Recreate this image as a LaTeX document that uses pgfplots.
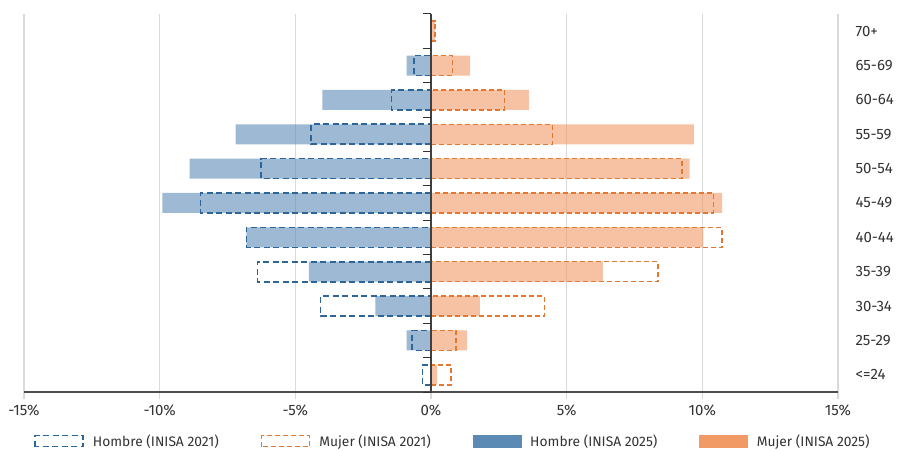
\documentclass[border=0pt]{standalone}
\usepackage{fontspec}
\setmainfont{Fira Sans}
\usepackage{pgfplots}
\pgfplotsset{compat=1.18}
\usepackage{pgfplotstable}

\definecolor{hfill}{HTML}{5B8BB5}
\definecolor{mfill}{HTML}{F29A65}
\definecolor{hline}{HTML}{2D6599}
\definecolor{mline}{HTML}{E3782E}
\definecolor{gridc}{HTML}{DADADA}
\definecolor{txt}{HTML}{333333}

% idx: 0 = <=24 ... 10 = 70+
\pgfplotstableread{
idx h25   h21   m25   m21
0   0     -0.32 0.23  0.73
1   -0.90 -0.69 1.33  0.92
2   -2.05 -4.07 1.80  4.19
3   -4.50 -6.40 6.33  8.37
4   -6.80 -6.80 10.04 10.73
5   -9.90 -8.49 10.73 10.41
6   -8.90 -6.27 9.53  9.25
7   -7.20 -4.42 9.69  4.48
8   -4.00 -1.46 3.61  2.70
9   -0.90 -0.63 1.44  0.79
10  0     0     0.15  0.15
}\piramide

\begin{document}
\begin{tikzpicture}[font=\fontsize{13.8}{16}\selectfont]
\path[use as bounding box] (-24pt,-58pt) rectangle (878pt,392pt);
\begin{axis}[
    scale only axis,
    width=814pt, height=378pt,
    xmin=-15, xmax=15,
    ymin=-0.5, ymax=10.5,
    xbar, bar width=20pt, bar shift=0pt,
    axis x line*=bottom,
    axis y line*=right,
    x axis line style={draw=black!70, line width=1.2pt},
    y axis line style={draw=none},
    xtick={-15,-10,...,15},
    xticklabel={\pgfmathprintnumber{\tick}\%},
    /pgf/number format/assume math mode=true,
    xtick align=outside,
    major tick length=7pt,
    xtick style={draw=gridc, line width=1.2pt},
    xmajorgrids,
    grid style={draw=gridc, line width=1.2pt},
    xticklabel style={text=txt, font=\fontsize{15}{17}\selectfont, yshift=-2pt},
    ytick={0,...,10},
    yticklabels={<=24,25-29,30-34,35-39,40-44,45-49,50-54,55-59,60-64,65-69,70+},
    ytick style={draw=none},
    yticklabel style={text=txt, anchor=west, xshift=7pt, font=\fontsize{15}{17}\selectfont},
    legend columns=4,
    legend style={at={(0.527,-0.13)}, anchor=center, draw=none, fill=none,
        text=txt,
        /tikz/every odd column/.append style={column sep=7pt},
        /tikz/every even column/.append style={column sep=40pt}},
]
\addlegendimage{legend image code/.code={\draw[draw=hline, line width=1.6pt, dash pattern=on 6pt off 3.5pt] (0pt,-5.5pt) rectangle (48pt,5.5pt);}}
\addlegendentry{Hombre (INISA 2021)}
\addlegendimage{legend image code/.code={\draw[draw=mline, line width=1.5pt, dash pattern=on 5pt off 3pt] (0pt,-5.5pt) rectangle (48pt,5.5pt);}}
\addlegendentry{Mujer (INISA 2021)}
\addlegendimage{legend image code/.code={\fill[hfill] (0pt,-6pt) rectangle (48pt,6pt);}}
\addlegendentry{Hombre (INISA 2025)}
\addlegendimage{legend image code/.code={\fill[mfill] (0pt,-6pt) rectangle (48pt,6pt);}}
\addlegendentry{Mujer (INISA 2025)}

% 2025: filled, semi transparent
\addplot[forget plot, draw=none, fill=hfill, fill opacity=0.6] table[x=h25, y=idx] {\piramide};
\addplot[forget plot, draw=none, fill=mfill, fill opacity=0.6] table[x=m25, y=idx] {\piramide};
% 2021: dashed outlines
\addplot[forget plot, draw=hline, fill=none, line width=1.6pt, dash pattern=on 6pt off 3.5pt] table[x=h21, y=idx] {\piramide};
\addplot[forget plot, draw=mline, fill=none, line width=1.5pt, dash pattern=on 5pt off 3pt] table[x=m21, y=idx] {\piramide};

% central axis with ticks at the group borders
\draw[black!75, line width=1.2pt] (axis cs:0,-0.56) -- (axis cs:0,10.5);
\pgfplotsinvokeforeach{-0.5,0.5,...,10.5}{
    \draw[black!80, line width=1pt] (axis cs:0,#1) -- ++(-8pt,0pt);
}
\end{axis}
\end{tikzpicture}
\end{document}
